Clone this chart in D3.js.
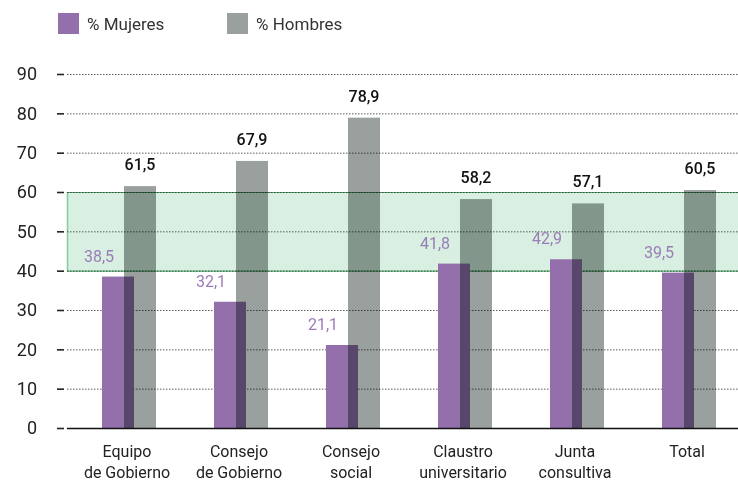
<!DOCTYPE html>
<html>
<head>
<meta charset="utf-8">
<script src="https://cdn.jsdelivr.net/npm/d3@7"></script>
<style>
  body { margin: 0; background: #fff; }
  svg { font-family: Roboto, "Noto Sans", sans-serif; }
</style>
</head>
<body>
<svg id="chart"></svg>
<script>
// data
let categories = [['Equipo', 'de Gobierno'], ['Consejo', 'de Gobierno'], ['Consejo', 'social'],
                  ['Claustro', 'universitario'], ['Junta', 'consultiva'], ['Total']]
let mujeres = [38.5, 32.1, 21.1, 41.8, 42.9, 39.5]
let hombres = [61.5, 67.9, 78.9, 58.2, 57.1, 60.5]
let yTicks = [0, 10, 20, 30, 40, 50, 60, 70, 80, 90]
let band = [40, 60] // shaded range

let width = 738
let height = 482
let left = 67
let barW = 32

let svg = d3.select('#chart').attr('width', width).attr('height', height)

let keys = categories.map((c, i) => i)
let xScale = d3.scaleBand().domain(keys).range([102, 102 + 6 * 112]).padding(0)
let yScale = d3.scaleLinear().domain([0, 90]).range([428, 74])

// green band
svg.append('rect')
    .attr('x', left)
    .attr('y', yScale(band[1]))
    .attr('width', width - left)
    .attr('height', yScale(band[0]) - yScale(band[1]))
    .attr('fill', '#d9efe2')
svg.append('line')
    .attr('x1', left + 0.5).attr('x2', left + 0.5)
    .attr('y1', yScale(band[1])).attr('y2', yScale(band[0]))
    .attr('stroke', '#7fcf98').attr('stroke-width', 1.5)
band.forEach(v => {
    svg.append('line')
        .attr('x1', left).attr('x2', width)
        .attr('y1', yScale(v) + 0.5).attr('y2', yScale(v) + 0.5)
        .attr('stroke', '#4cae6c').attr('stroke-width', 1.2)
})

// grid
svg.append('g').selectAll('line')
    .data(yTicks.filter(d => d > 0))
    .enter().append('line')
    .attr('x1', left).attr('x2', width)
    .attr('y1', d => yScale(d) + 0.5).attr('y2', d => yScale(d) + 0.5)
    .attr('stroke', '#333').attr('stroke-width', 0.8)
    .attr('stroke-dasharray', '1.5,1.5')

// y axis (ticks only)
let yAxis = d3.axisLeft(yScale).tickValues(yTicks).tickSize(7).tickPadding(20).tickFormat(d3.format('d'))
let gy = svg.append('g').attr('transform', 'translate(64,0)').call(yAxis)
gy.select('.domain').remove()
gy.selectAll('line').attr('stroke', '#222').attr('stroke-width', 1.6)
gy.selectAll('text').attr('font-size', 18).attr('fill', '#222').attr('font-family', 'Roboto')

// bars
svg.append('g').selectAll('rect')
    .data(mujeres)
    .enter().append('rect')
    .attr('x', (d, i) => xScale(i))
    .attr('y', d => yScale(d))
    .attr('width', barW)
    .attr('height', d => yScale(0) - yScale(d))
    .attr('fill', '#9370ac')

svg.append('g').selectAll('rect')
    .data(hombres)
    .enter().append('rect')
    .attr('x', (d, i) => xScale(i) + 22)
    .attr('y', d => yScale(d))
    .attr('width', barW)
    .attr('height', d => yScale(0) - yScale(d))
    .attr('fill', '#9aa09e')
    .style('mix-blend-mode', 'multiply')

// baseline
svg.append('line')
    .attr('x1', left).attr('x2', width)
    .attr('y1', yScale(0) + 0.5).attr('y2', yScale(0) + 0.5)
    .attr('stroke', '#111').attr('stroke-width', 1.6)

// value labels
svg.append('g').selectAll('text')
    .data(mujeres)
    .enter().append('text')
    .attr('x', (d, i) => xScale(i) - 3)
    .attr('y', d => yScale(d) - 15)
    .attr('text-anchor', 'middle')
    .attr('font-size', 16)
    .attr('fill', '#9a7db8')
    .text(d => d3.format('.1f')(d).replace('.', ','))

svg.append('g').selectAll('text')
    .data(hombres)
    .enter().append('text')
    .attr('x', (d, i) => xScale(i) + 22 + barW / 2)
    .attr('y', d => yScale(d) - 16)
    .attr('text-anchor', 'middle')
    .attr('font-size', 16)
    .attr('font-weight', 500)
    .attr('fill', '#111')
    .text(d => d3.format('.1f')(d).replace('.', ','))

// category labels
let gx = svg.append('g')
categories.forEach((lines, i) => {
    let t = gx.append('text')
        .attr('x', xScale(i) + 25)
        .attr('y', 457)
        .attr('text-anchor', 'middle')
        .attr('font-size', 16)
        .attr('fill', '#222')
    lines.forEach((s, j) => {
        t.append('tspan').attr('x', xScale(i) + 25).attr('dy', j === 0 ? 0 : 21).text(s)
    })
})

// legend
let legend = [['% Mujeres', '#9370ac'], ['% Hombres', '#9aa09e']]
legend.forEach((l, i) => {
    let x = 58 + i * 169
    svg.append('rect').attr('x', x).attr('y', 13).attr('width', 21).attr('height', 21).attr('fill', l[1])
    svg.append('text').attr('x', x + 29).attr('y', 30).attr('font-size', 17).attr('fill', '#333').text(l[0])
})
</script>
</body>
</html>
